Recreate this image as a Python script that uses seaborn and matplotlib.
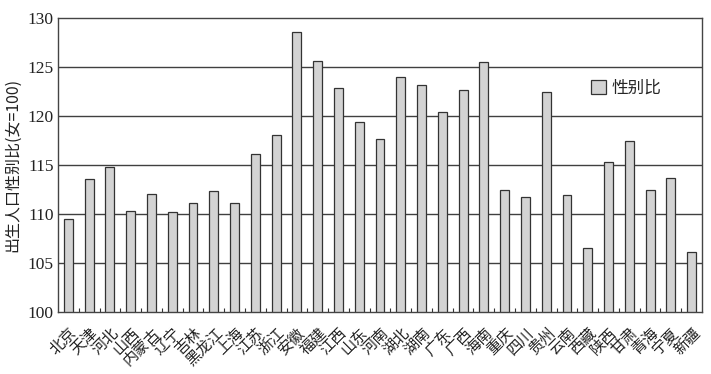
import matplotlib
matplotlib.use("Agg")
import matplotlib.pyplot as plt
import seaborn as sns
import pandas as pd
from matplotlib.ticker import FixedLocator

provinces = ["北京", "天津", "河北", "山西", "内蒙古", "辽宁", "吉林", "黑龙江", "上海", "江苏",
             "浙江", "安徽", "福建", "江西", "山东", "河南", "湖北", "湖南", "广东", "广西",
             "海南", "重庆", "四川", "贵州", "云南", "西藏", "陕西", "甘肃", "青海", "宁夏", "新疆"]
sex_ratio = [109.5, 113.6, 114.8, 110.3, 112.0, 110.2, 111.1, 112.3, 111.1, 116.1,
             118.1, 128.6, 125.6, 122.9, 119.4, 117.7, 124.0, 123.2, 120.4, 122.7,
             125.5, 112.4, 111.7, 122.5, 111.9, 106.5, 115.3, 117.5, 112.4, 113.7, 106.1]
y_ticks = [100, 105, 110, 115, 120, 125, 130]
series_name = "性别比"
y_label = "出生人口性别比(女=100)"

sns.set_theme(style="white")
plt.rcParams['font.family'] = ['Noto Sans CJK SC', 'DejaVu Sans']

df = pd.DataFrame({"省份": provinces, "值": sex_ratio})

fig = plt.figure(figsize=(7.11, 3.74), dpi=100)
ax = fig.add_axes([58/711, 1-312/374, 644/711, 294/374])

for yv in y_ticks[1:-1]:
    ax.axhline(yv, color="#404040", lw=1.0, zorder=0)

sns.barplot(data=df, x="省份", y="值", ax=ax, color="#d3d3d3", width=0.43,
            edgecolor="#333333", linewidth=0.9, saturation=1, label=series_name, zorder=2)

ax.set_ylim(100, 130)
ax.set_xlim(-0.5, len(provinces) - 0.5)
ax.set_yticks(y_ticks)
ax.set_yticklabels([str(v) for v in y_ticks], family=['Liberation Serif', 'Noto Sans CJK SC'], fontsize=12.5)
ax.set_xlabel("")
ax.set_ylabel(y_label, fontsize=11.5, color="#222222", labelpad=5)

ax.set_xticks(range(len(provinces)))
ax.set_xticklabels(provinces, rotation=45, ha="right", rotation_mode="anchor", fontsize=11, color="#222222")
ax.tick_params(axis="x", which="major", length=0, pad=9)
ax.xaxis.set_minor_locator(FixedLocator([i + 0.5 for i in range(len(provinces) - 1)]))
ax.tick_params(axis="x", which="minor", direction="in", length=3, color="#333333", width=0.8, bottom=True)
ax.tick_params(axis="y", which="major", length=0, pad=3, colors="#222222")

for s in ax.spines.values():
    s.set_visible(True)
    s.set_color("#444444")
    s.set_linewidth(1.0)

leg = ax.legend(loc="center left", bbox_to_anchor=(0.805, 0.76), frameon=False,
                fontsize=12, handlelength=0.9, handleheight=0.9, handletextpad=0.3)

fig.savefig("out.png", dpi=100)
